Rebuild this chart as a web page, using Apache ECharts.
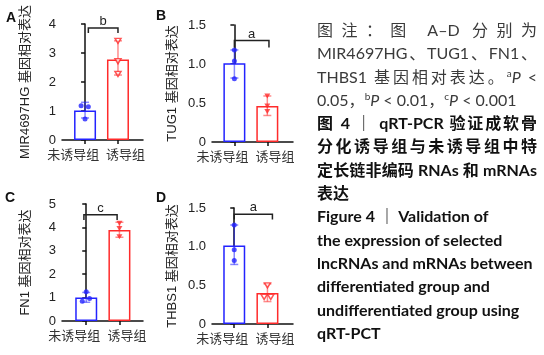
<!DOCTYPE html>
<html>
<head>
<meta charset="utf-8">
<script src="https://cdn.jsdelivr.net/npm/echarts@6/dist/echarts.min.js"></script>
<style>
  html, body { margin: 0; padding: 0; background: #fff; }
  #wrap { position: relative; width: 544px; height: 355px; }
  #chart { position: absolute; left: 0; top: 0; width: 544px; height: 355px; }
  #cap {
    position: absolute; left: 317px; top: 18px; width: 220px;
    font-family: "Lato", "Noto Sans CJK SC", sans-serif; font-size: 16px; line-height: 23.3px;
  }
  #cap .l { height: 23.3px; white-space: nowrap; overflow: visible; }
  #cap .j { text-align: justify; text-align-last: justify; }
  #cap .note { color: #3a3a3a; }
  #cap .bold { color: #111; font-weight: 700; }
  #cap sup { font-size: 10px; line-height: 0; vertical-align: 6px; }
</style>
</head>
<body>
<div id="wrap">
  <div id="chart"></div>
  <div id="cap">
    <div class="l j note">图注：图 A–D 分别为</div>
    <div class="l j note">MIR4697HG、TUG1、FN1、</div>
    <div class="l j note">THBS1 基因相对表达。<sup>a</sup><i>P</i> &lt;</div>
    <div class="l note">0.05，<sup>b</sup><i>P</i> &lt; 0.01，<sup>c</sup><i>P</i> &lt; 0.001</div>
    <div class="l j bold">图 4 ｜ qRT-PCR 验证成软骨</div>
    <div class="l j bold">分化诱导组与未诱导组中特</div>
    <div class="l j bold">定长链非编码 RNAs 和 mRNAs</div>
    <div class="l bold">表达</div>
    <div class="l bold">Figure 4 ｜ Validation of</div>
    <div class="l bold">the expression of selected</div>
    <div class="l bold">lncRNAs and mRNAs between</div>
    <div class="l bold">differentiated group and</div>
    <div class="l bold">undifferentiated group using</div>
    <div class="l bold">qRT-PCT</div>
  </div>
</div>
<script>
// 组别与各面板标题
const groups = ["未诱导组", "诱导组"];
const panelLetters = ["A", "B", "C", "D"];
const yNames = ["MIR4697HG 基因相对表达", "TUG1 基因相对表达", "FN1 基因相对表达", "THBS1 基因相对表达"];
const yMax = [4, 1.5, 5, 1.5];
const yStep = [1, 0.5, 1, 0.5];
const sigLetters = ["b", "a", "c", "a"];

// A: MIR4697HG
const meanA = [1.02, 2.78];
const errLoA = [0.76, 2.24];
const errHiA = [1.30, 3.42];
const ptsUnA = [1.18, 1.15, 0.72];
const ptsInA = [3.42, 2.72, 2.28];
// B: TUG1
const meanB = [1.01, 0.46];
const errLoB = [0.82, 0.34];
const errHiB = [1.18, 0.59];
const ptsUnB = [1.18, 1.04, 0.81];
const ptsInB = [0.59, 0.46, 0.39];
// C: FN1
const meanC = [1.0, 3.89];
const errLoC = [0.80, 3.58];
const errHiC = [1.22, 4.22];
const ptsUnC = [1.25, 0.84, 0.96];
const ptsInC = [4.18, 3.95, 3.60];
// D: THBS1
const meanD = [1.015, 0.40];
const errLoD = [0.77, 0.29];
const errHiD = [1.28, 0.52];
const ptsUnD = [1.28, 0.96, 0.82];
const ptsInD = [0.50, 0.35, 0.35];

// 散点横向抖动（组中心的偏移量）
const jitUn = [[-0.12, 0.1, 0], [0, 0, 0], [0, -0.12, 0.1], [0, 0, 0]];
const jitIn = [[0, 0, 0], [0, 0, 0], [0, 0, 0], [0, -0.1, 0.1]];

// 显著性括号 [x0, x1, 顶部, 脚部]
const brackets = [
  [0.1, 1.0, 3.86, 3.69],
  [0, 1.05, 1.30, 1.21],
  [-0.07, 0.93, 4.54, 4.32],
  [0, 1.15, 1.42, 1.35]
];

const means = [meanA, meanB, meanC, meanD];
const errLo = [errLoA, errLoB, errLoC, errLoD];
const errHi = [errHiA, errHiB, errHiC, errHiD];
const ptsUn = [ptsUnA, ptsUnB, ptsUnC, ptsUnD];
const ptsIn = [ptsInA, ptsInB, ptsInC, ptsInD];

const BLUE = "#2323ff";
const RED = "#ff2b2b";
const errColors = ["rgba(35,35,255,0.55)", "rgba(255,43,43,0.55)"];
const hollowRed = [true, false, false, true];

// 版面
const grids = [
  { left: 62, top: 24, width: 81, height: 116 },
  { left: 212, top: 25, width: 81, height: 117 },
  { left: 62, top: 204, width: 81, height: 117 },
  { left: 212, top: 208, width: 81, height: 116 }
];
const xRange = [[-0.70, 1.76], [-0.68, 1.78], [-0.73, 1.71], [-0.67, 1.77]];
const nameGaps = [30, 33, 30, 33];
const letterPos = [[11, 19], [161, 17], [10, 199], [161, 199]];

const latin = '"Liberation Sans", "Noto Sans CJK SC", sans-serif';
const cjk = '"Noto Sans CJK SC", sans-serif';

const chart = echarts.init(document.getElementById("chart"));

const xAxes = [], yAxes = [], series = [];
grids.forEach((g, i) => {
  xAxes.push({
    type: "value", gridIndex: i, min: xRange[i][0], max: xRange[i][1],
    splitLine: { show: false },
    axisLine: { show: true, onZero: false, lineStyle: { color: "#111", width: 1.5 } },
    axisTick: { show: true, customValues: [0, 1], length: 4, lineStyle: { color: "#111", width: 1.5 } },
    axisLabel: {
      customValues: [-0.36, 1.23], margin: 8,
      formatter: v => (v < 0.5 ? groups[0] : groups[1]),
      color: "#333", fontSize: 13, fontFamily: cjk
    }
  });
  yAxes.push({
    type: "value", gridIndex: i, min: 0, max: yMax[i], interval: yStep[i],
    name: yNames[i], nameLocation: "middle", nameGap: nameGaps[i],
    nameTextStyle: { color: "#222", fontSize: 13, fontFamily: latin },
    splitLine: { show: false },
    axisLine: { show: true, lineStyle: { color: "#111", width: 1.5 } },
    axisTick: { show: true, length: 4, lineStyle: { color: "#111", width: 1.5 } },
    axisLabel: {
      margin: 6, color: "#222", fontSize: 13, fontFamily: latin,
      formatter: v => (v === 0 ? "0" : (yStep[i] < 1 ? v.toFixed(1) : String(v)))
    }
  });

  series.push({
    type: "bar", xAxisIndex: i, yAxisIndex: i, barWidth: 22, z: 2,
    data: means[i].map((m, k) => ({
      value: [k, m],
      itemStyle: { color: "#fff", borderColor: k === 0 ? BLUE : RED, borderWidth: 1.5 }
    })),
    silent: true
  });

  series.push({
    type: "custom", xAxisIndex: i, yAxisIndex: i, z: 3,
    data: means[i].map((m, k) => [k, errLo[i][k], errHi[i][k]]),
    renderItem: (params, api) => {
      const x = api.value(0);
      const top = api.coord([x, api.value(2)]);
      const bot = api.coord([x, api.value(1)]);
      const st = { stroke: errColors[params.dataIndex], lineWidth: 1.5 };
      const w = 4;
      return {
        type: "group", children: [
          { type: "line", shape: { x1: top[0], y1: top[1], x2: bot[0], y2: bot[1] }, style: st },
          { type: "line", shape: { x1: top[0] - w, y1: top[1], x2: top[0] + w, y2: top[1] }, style: st },
          { type: "line", shape: { x1: bot[0] - w, y1: bot[1], x2: bot[0] + w, y2: bot[1] }, style: st }
        ]
      };
    }
  });

  series.push({
    type: "scatter", xAxisIndex: i, yAxisIndex: i, z: 4,
    symbol: "circle", symbolSize: 5,
    itemStyle: { color: BLUE },
    data: ptsUn[i].map((v, k) => [jitUn[i][k], v])
  });

  series.push({
    type: "scatter", xAxisIndex: i, yAxisIndex: i, z: 4,
    symbol: "path://M0,0L10,0L5,8.66Z", symbolSize: [6, 5],
    itemStyle: hollowRed[i]
      ? { color: "#fff", borderColor: RED, borderWidth: 1.5 }
      : { color: RED },
    data: ptsIn[i].map((v, k) => [1 + jitIn[i][k], v])
  });

  series.push({
    type: "custom", xAxisIndex: i, yAxisIndex: i, z: 5,
    data: [brackets[i]],
    renderItem: (params, api) => {
      const a = api.coord([api.value(0), api.value(2)]);
      const b = api.coord([api.value(1), api.value(2)]);
      const footY = api.coord([api.value(0), api.value(3)])[1];
      return {
        type: "group", children: [
          {
            type: "polyline",
            shape: { points: [[a[0], footY], a, b, [b[0], footY]] },
            style: { stroke: "#222", lineWidth: 1.5, fill: null }
          },
          {
            type: "text",
            style: {
              text: sigLetters[i], x: (a[0] + b[0]) / 2, y: a[1],
              textAlign: "center", textVerticalAlign: "bottom",
              font: "13px " + latin, fill: "#222"
            }
          }
        ]
      };
    }
  });
});

chart.setOption({
  animation: false,
  backgroundColor: "#fff",
  grid: grids,
  xAxis: xAxes,
  yAxis: yAxes,
  series: series,
  graphic: panelLetters.map((t, i) => ({
    type: "text", left: letterPos[i][0] - 5, top: letterPos[i][1] - 8,
    style: { text: t, font: "bold 14px " + latin, fill: "#111" }
  }))
});
</script>
</body>
</html>
